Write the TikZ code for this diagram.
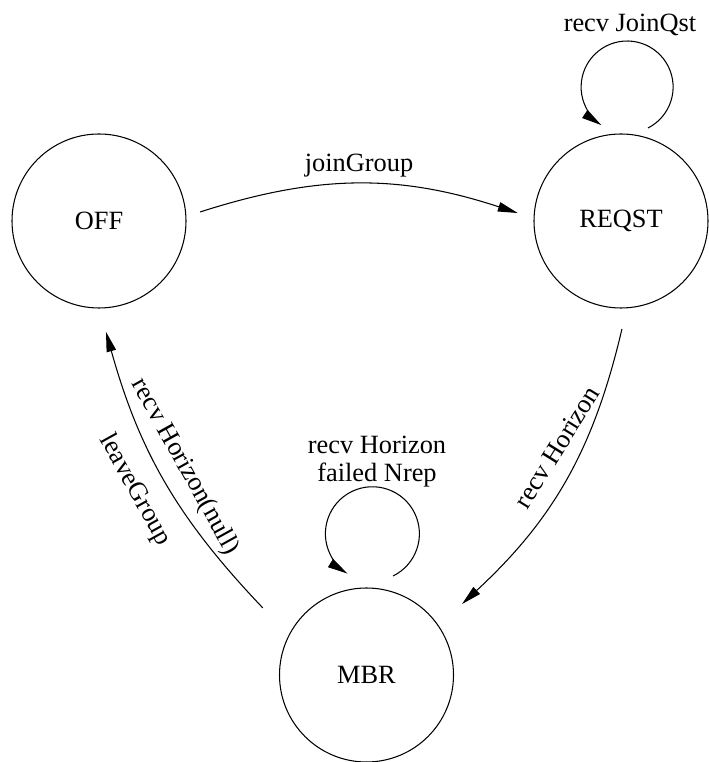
\documentclass[tikz,border=0pt]{standalone}
\usepackage{fontspec}
\setmainfont{Liberation Serif}
\usetikzlibrary{arrows.meta,calc}

\begin{document}
\begin{tikzpicture}[>={Triangle[length=0.4cm,width=0.19cm]},line width=0.6pt,
  font=\fontsize{15}{16}\selectfont,
  state/.style={circle,draw,minimum size=3.48cm,inner sep=0pt}]
  \useasboundingbox (0,0) rectangle (14.16,15.24);
  \node[state] (off) at (1.98,10.82) {OFF};
  \node[state] (reqst) at (12.42,10.82) {REQST};
  \node[state] (mbr) at (7.33,1.74) {MBR};
  % transitions
  \draw[->] ($(off)+(5.1:2.03)$) to[bend left=18]
    node[midway,above] (jg) {joinGroup} ($(reqst)+(175.6:2.07)$);
  \draw[->] ($(reqst)+(-89.5:2.16)$) to[bend left=17] ($(mbr)+(36.6:2.38)$);
  \draw[->] ($(mbr)+(147.1:2.47)$) to[bend left=14] ($(off)+(-86.4:2.22)$);
  % self loops
  \draw[->] ($(reqst)+(0.54,1.86)$) arc[start angle=-63,end angle=236,radius=0.92];
  \draw[->] ($(mbr)+(0.53,1.98)$) arc[start angle=-64,end angle=238,radius=0.94];
  % labels
  \node (jq) at (12.6,14.74) {recv JoinQst};
  \node[align=center] (hf) at (7.54,6.0) {recv Horizon\\failed Nrep};
  \node[rotate=58] (hz) at (11.14,6.30) {recv Horizon};
  \node[rotate=-61] (hn) at (3.70,5.90) {recv Horizon(null)};
  \node[rotate=-61] (lg) at (2.70,5.44) {leaveGroup};
\end{tikzpicture}
\end{document}
